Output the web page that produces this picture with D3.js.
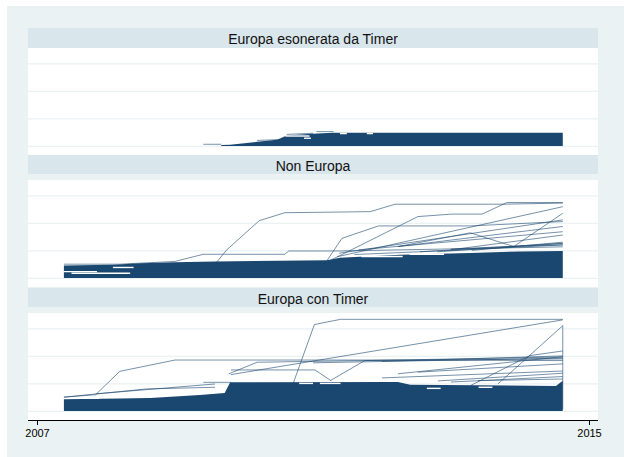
<!DOCTYPE html>
<html>
<head>
<meta charset="utf-8">
<script src="https://cdn.jsdelivr.net/npm/d3@7"></script>
<style>
  body { margin: 0; background: #fff; }
  text { font-family: "Liberation Sans", Arial, sans-serif; }
</style>
</head>
<body>
<div id="chart"></div>
<script>
// panel titles (Stata by-graph order)
const panelNames = ["Europa esonerata da Timer", "Non Europa", "Europa con Timer"];
const xTicks = [2007, 2015];
const yTicks = [0, 1, 2, 3];

// upper edge of the dense bundle of lines, [year, value]
const esoBlock = [[2009.67, 0.03], [2009.80, 0.04], [2010.19, 0.15], [2010.48, 0.22], [2010.62, 0.38],
                  [2010.99, 0.44], [2011.29, 0.48], [2014.62, 0.48]];
const nonBlock = [[2007.39, 0.45], [2008.10, 0.48], [2008.50, 0.53], [2009.00, 0.57], [2009.58, 0.60],
                  [2011.20, 0.64], [2011.39, 0.73], [2012.26, 0.84], [2013.28, 0.91], [2014.00, 0.96],
                  [2014.62, 0.98]];
const conBlock = [[2007.39, 0.42], [2008.20, 0.45], [2008.64, 0.47], [2009.36, 0.58], [2009.72, 0.65],
                  [2009.80, 1.04], [2012.23, 1.05], [2012.41, 0.95], [2014.52, 0.91], [2014.62, 1.10]];

// white streaks left inside the bundle
const esoGaps = [
  [[2010.60, 0.36], [2010.95, 0.36]],
  [[2010.87, 0.28], [2010.97, 0.28]],
  [[2011.39, 0.45], [2011.49, 0.45]],
  [[2011.78, 0.45], [2011.87, 0.45]]
];
const nonGaps = [
  [[2007.39, 0.23], [2007.87, 0.23]],
  [[2007.50, 0.17], [2008.35, 0.17]],
  [[2008.10, 0.38], [2008.40, 0.38]],
  [[2011.70, 0.78], [2012.30, 0.78]],
  [[2012.40, 0.86], [2012.90, 0.86]]
];
const conGaps = [
  [[2007.39, 0.46], [2007.90, 0.46]],
  [[2010.80, 1.00], [2011.00, 1.00]],
  [[2011.10, 1.00], [2011.40, 1.00]],
  [[2012.65, 0.82], [2012.85, 0.82]],
  [[2013.40, 0.86], [2013.60, 0.86]]
];

// single series that stand out of the bundle
const esoLines = [
  [[2009.41, 0.06], [2009.67, 0.06]],
  [[2010.19, 0.20], [2010.62, 0.24]],
  [[2010.62, 0.42], [2011.00, 0.46]],
  [[2011.05, 0.52], [2011.30, 0.52]]
];
const nonLines = [
  [[2009.58, 0.50], [2009.75, 1.02], [2010.22, 2.08], [2010.59, 2.37], [2011.23, 2.39], [2011.83, 2.41],
   [2012.19, 2.68], [2013.75, 2.68], [2014.62, 2.72]],
  [[2007.39, 0.50], [2008.20, 0.50], [2009.00, 0.60], [2009.41, 0.86], [2010.59, 0.86], [2010.65, 0.98],
   [2011.40, 0.98], [2014.62, 1.13]],
  [[2011.20, 0.62], [2011.42, 1.44], [2011.95, 1.89], [2013.28, 1.89], [2014.62, 2.05]],
  [[2011.26, 0.65], [2012.52, 2.23], [2013.01, 2.32], [2013.45, 2.32], [2013.81, 2.74], [2014.62, 2.74]],
  [[2011.35, 0.77], [2014.62, 2.59]],
  [[2011.38, 0.90], [2014.62, 2.11]],
  [[2011.66, 1.02], [2014.62, 1.68]],
  [[2012.23, 1.14], [2013.28, 1.64], [2013.91, 1.14], [2014.62, 2.35]],
  [[2012.23, 1.14], [2014.62, 1.87]],
  [[2012.99, 1.02], [2014.62, 1.56]],
  [[2012.55, 0.95], [2014.62, 1.26]],
  [[2011.60, 0.85], [2013.00, 1.00], [2014.62, 1.20]],
  [[2012.80, 0.95], [2014.62, 1.25]],
  [[2013.30, 1.00], [2014.62, 1.30]],
  [[2013.00, 1.05], [2013.90, 1.15], [2014.62, 1.20]]
];
const conLines = [
  [[2007.39, 0.50], [2007.85, 0.59], [2008.20, 1.44], [2009.00, 1.85], [2012.12, 1.85], [2014.62, 1.83]],
  [[2010.71, 0.98], [2011.02, 3.14], [2011.40, 3.33], [2014.62, 3.33]],
  [[2009.81, 1.32], [2014.62, 3.31]],
  [[2009.78, 1.35], [2010.19, 1.77], [2011.75, 1.83], [2014.62, 1.89]],
  [[2009.81, 1.49], [2011.03, 1.49], [2011.26, 1.10]],
  [[2011.25, 1.10], [2011.75, 1.83], [2014.62, 1.96]],
  [[2013.68, 0.98], [2014.62, 3.10], [2014.62, 0.07]],
  [[2013.28, 0.92], [2014.14, 2.01], [2014.62, 2.18]],
  [[2012.23, 1.35], [2014.62, 1.97]],
  [[2012.52, 1.41], [2014.62, 1.71]],
  [[2012.81, 1.09], [2014.62, 1.37]],
  [[2013.39, 1.10], [2014.62, 1.16]],
  [[2007.39, 0.50], [2008.59, 0.80], [2009.58, 0.86]],
  [[2007.85, 0.62], [2009.58, 0.98]],
  [[2009.41, 1.04], [2009.81, 1.04]],
  [[2011.00, 1.75], [2014.62, 1.92]],
  [[2012.00, 1.80], [2014.62, 2.00]],
  [[2012.00, 1.20], [2014.62, 1.45]],
  [[2013.00, 1.05], [2014.62, 1.25]]
];

const blocks = [esoBlock, nonBlock, conBlock];
const gaps = [esoGaps, nonGaps, conGaps];
const singles = [esoLines, nonLines, conLines];

const width = 624, height = 457;
const navy = "#1a476f";
// strip and plot bands of each panel
const layout = [
  {stripTop: 28, stripBottom: 48, plotTop: 48, plotBottom: 155},
  {stripTop: 155, stripBottom: 174, plotTop: 180, plotBottom: 287},
  {stripTop: 288, stripBottom: 307, plotTop: 313, plotBottom: 420}
];
const left = 28, right = 598;

const svg = d3.select("#chart").append("svg")
    .attr("width", width)
    .attr("height", height);

// graph region
svg.append("rect")
    .attr("x", 7).attr("y", 6)
    .attr("width", width - 7).attr("height", height - 6)
    .attr("fill", "#eaf2f3");

const x = d3.scaleLinear().domain([2007, 2015]).range([37, 589]);

layout.forEach((p, i) => {
    const y = d3.scaleLinear().domain([-0.33, 3.56]).range([p.plotBottom, p.plotTop]);
    const g = svg.append("g");

    // title strip
    g.append("rect")
        .attr("x", left).attr("y", p.stripTop)
        .attr("width", right - left).attr("height", p.stripBottom - p.stripTop)
        .attr("fill", "#d9e6eb");
    g.append("text")
        .attr("x", (left + right) / 2)
        .attr("y", (p.stripTop + p.stripBottom) / 2 + 1)
        .attr("text-anchor", "middle")
        .attr("dominant-baseline", "central")
        .style("font-size", "14px")
        .attr("fill", "#111")
        .text(panelNames[i]);

    // plot region
    g.append("rect")
        .attr("x", left).attr("y", p.plotTop)
        .attr("width", right - left).attr("height", p.plotBottom - p.plotTop)
        .attr("fill", "#fff");

    // gridlines
    g.append("g")
        .attr("transform", `translate(${left},0)`)
        .call(d3.axisLeft(y).tickValues(yTicks).tickSize(-(right - left)).tickFormat(""))
        .call(a => a.select(".domain").remove())
        .selectAll("line")
        .attr("stroke", "#eaf2f3")
        .attr("stroke-width", 1.2);

    // dense bundle
    const area = d3.area()
        .x(d => x(d[0]))
        .y0(y(0))
        .y1(d => y(d[1]));
    g.append("path")
        .datum(blocks[i])
        .attr("d", area)
        .attr("fill", navy);

    const line = d3.line().x(d => x(d[0])).y(d => y(d[1]));

    // white streaks inside the bundle
    g.selectAll("path.gap")
        .data(gaps[i])
        .enter()
        .append("path")
        .attr("class", "gap")
        .attr("d", line)
        .attr("fill", "none")
        .attr("stroke", "#fff")
        .attr("stroke-width", 1.4);

    // individual series
    g.selectAll("path.series")
        .data(singles[i])
        .enter()
        .append("path")
        .attr("class", "series")
        .attr("d", line)
        .attr("fill", "none")
        .attr("stroke", navy)
        .attr("stroke-width", 1)
        .attr("stroke-opacity", 0.6);
});

// x axis under the last panel
svg.append("g")
    .attr("transform", `translate(0,420)`)
    .call(d3.axisBottom(x).tickValues(xTicks).tickFormat(d3.format("d")).tickSize(5).tickPadding(4))
    .call(a => a.select(".domain").attr("d", `M${left},0.5H${right}`).attr("stroke", "#000"))
    .call(a => a.selectAll("line").attr("stroke", "#000"))
    .call(a => a.selectAll("text").style("font-size", "11px").attr("fill", "#000")
        .style("font-family", "'Liberation Sans', Arial, sans-serif"));
</script>
</body>
</html>
